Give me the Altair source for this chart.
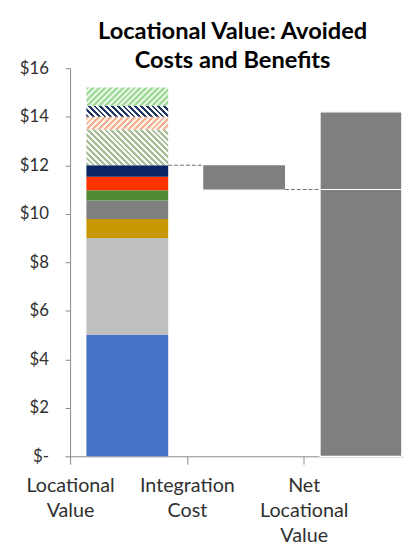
import altair as alt
import pandas as pd

# ---------------- data ----------------
categories = ["Locational Value", "Integration Cost", "Net Locational Value"]

# stacked components of the Locational Value bar (bottom -> top)
seg_names = ["C1", "C2", "C3", "C4", "C5", "C6", "C7", "C8", "C9", "C10", "C11"]
seg_values = [5.0, 4.0, 0.78, 0.77, 0.42, 0.55, 0.48, 1.47, 0.53, 0.45, 0.75]
seg_colors = ["#4472C4", "#BFBFBF", "#C99700", "#7F7F7F", "#4F8A35", "#FF3300",
              "#0B2466", "#A7BC96", "#F2B393", "#1F3864", "#9FD99A"]
seg_bg = [None, None, None, None, None, None, None,
          "#F7F9F4", "#FDF1EA", "#FFFFFF", "#E4F5E0"]
seg_hatch = [None, None, None, None, None, None, None, "\\", "/", "\\", "/"]

integration_cost = -1.0
net_segments = [11.0, 3.2]

# ---------------- style ----------------
BAR_L, BAR_R = 0.14, 0.84
X_MAX = 2.85
W, H = 338, 394
Y_MAX = 16
GRAY = "#7F7F7F"
FONT = "Lato"

px_per_x = W / X_MAX
px_per_y = H / Y_MAX
bar_w_px = (BAR_R - BAR_L) * px_per_x

# cumulative positions
rows = []
bottom = 0.0
for n, v, c, bg, h in zip(seg_names, seg_values, seg_colors, seg_bg, seg_hatch):
    rows.append(dict(name=n, x=0 + BAR_L, x2=0 + BAR_R, y=bottom, y2=bottom + v,
                     color=c, bg=bg, hatch=h, value=v))
    bottom += v
seg_df = pd.DataFrame(rows)
loc_total_solid = seg_df[seg_df.hatch.isna()].y2.max()

xscale = alt.Scale(domain=[0, X_MAX], nice=False, zero=False)
yscale = alt.Scale(domain=[0, Y_MAX], nice=False)

label_list = "[" + ",".join("'" + c + "'" for c in categories) + "]"

x_axis = alt.Axis(
    values=[0.5, 1.5, 2.5],
    labelExpr="split(" + label_list + "[floor(datum.value)], ' ')",
    tickOffset=-0.5 * px_per_x, tickSize=8, tickColor="#8A8A8A",
    domainColor="#8A8A8A", labelFont=FONT, labelFontSize=20, labelColor="#303030",
    labelLineHeight=25, labelPadding=12, labelFlush=False, title=None, grid=False,
)
y_axis = alt.Axis(
    values=list(range(0, Y_MAX + 1, 2)),
    labelExpr="datum.value == 0 ? '$-\u00a0' : '$' + datum.value",
    tickSize=5, tickColor="#8A8A8A", domainColor="#8A8A8A",
    labelFont=FONT, labelFontSize=17, labelColor="#303030", labelPadding=17,
    title=None, grid=False,
)

solid_df = seg_df[seg_df.hatch.isna()]
solid = alt.Chart(solid_df).mark_rect().encode(
    x=alt.X("x:Q", scale=xscale, axis=x_axis),
    x2="x2:Q",
    y=alt.Y("y:Q", scale=yscale, axis=y_axis),
    y2="y2:Q",
    color=alt.Color("name:N", scale=alt.Scale(domain=list(solid_df.name),
                                               range=list(solid_df.color)), legend=None),
)


def hatch_gradient(color, bg, direction, w, h, period=6.0):
    s = (w + h) / (w * w + h * h)
    n = max(1, int(round((w + h) / period)))
    stops = []
    for k in range(n):
        a = k / n
        m = (k + 0.5) / n
        b = (k + 1) / n
        stops += [alt.GradientStop(offset=a, color=color),
                  alt.GradientStop(offset=m, color=color),
                  alt.GradientStop(offset=m, color=bg),
                  alt.GradientStop(offset=b, color=bg)]
    if direction == "/":
        return alt.LinearGradient(gradient="linear", stops=stops,
                                  x1=0, y1=0, x2=w * s, y2=h * s)
    return alt.LinearGradient(gradient="linear", stops=stops,
                              x1=0, y1=1, x2=w * s, y2=1 - h * s)


layers = [solid]
for _, r in seg_df[seg_df.hatch.notna()].iterrows():
    grad = hatch_gradient(r.color, r.bg, r.hatch, bar_w_px, r.value * px_per_y)
    layers.append(
        alt.Chart(pd.DataFrame([r[["x", "x2", "y", "y2"]].to_dict()])).mark_rect(fill=grad).encode(
            x="x:Q", x2="x2:Q", y="y:Q", y2="y2:Q")
    )

# integration cost floating bar
int_df = pd.DataFrame([dict(x=1 + BAR_L, x2=1 + BAR_R, y=loc_total_solid,
                            y2=loc_total_solid + integration_cost)])
layers.append(alt.Chart(int_df).mark_rect(color=GRAY).encode(
    x="x:Q", x2="x2:Q", y="y:Q", y2="y2:Q"))

# net locational value bar
net_rows = []
b = 0.0
for v in net_segments:
    net_rows.append(dict(x=2 + BAR_L, x2=2 + BAR_R, y=b, y2=b + v))
    b += v
net_df = pd.DataFrame(net_rows)
layers.append(alt.Chart(net_df).mark_rect(color=GRAY, stroke="white", strokeWidth=1.2).encode(
    x="x:Q", x2="x2:Q", y="y:Q", y2="y2:Q"))

# dashed connectors
conn_df = pd.DataFrame([
    dict(x=0 + BAR_R, x2=1 + BAR_L, y=loc_total_solid),
    dict(x=1 + BAR_R, x2=2 + BAR_L, y=loc_total_solid + integration_cost),
])
layers.append(alt.Chart(conn_df).mark_rule(color="#6F6F6F", strokeDash=[4, 2], strokeWidth=1).encode(
    x="x:Q", x2="x2:Q", y="y:Q"))

chart = alt.layer(*layers).properties(
    width=W, height=H,
    padding={"left": 11, "right": 0, "top": 8, "bottom": 0},
    title=alt.TitleParams(
        text=["Locational Value: Avoided", "Costs and Benefits"],
        font=FONT, fontSize=24, fontWeight="bold", color="#000000",
        anchor="middle", lineHeight=30, offset=-14, dx=-4,
    ),
).configure_view(stroke=None)

chart.save("out.html", embed_options={"renderer": "svg", "actions": False})
